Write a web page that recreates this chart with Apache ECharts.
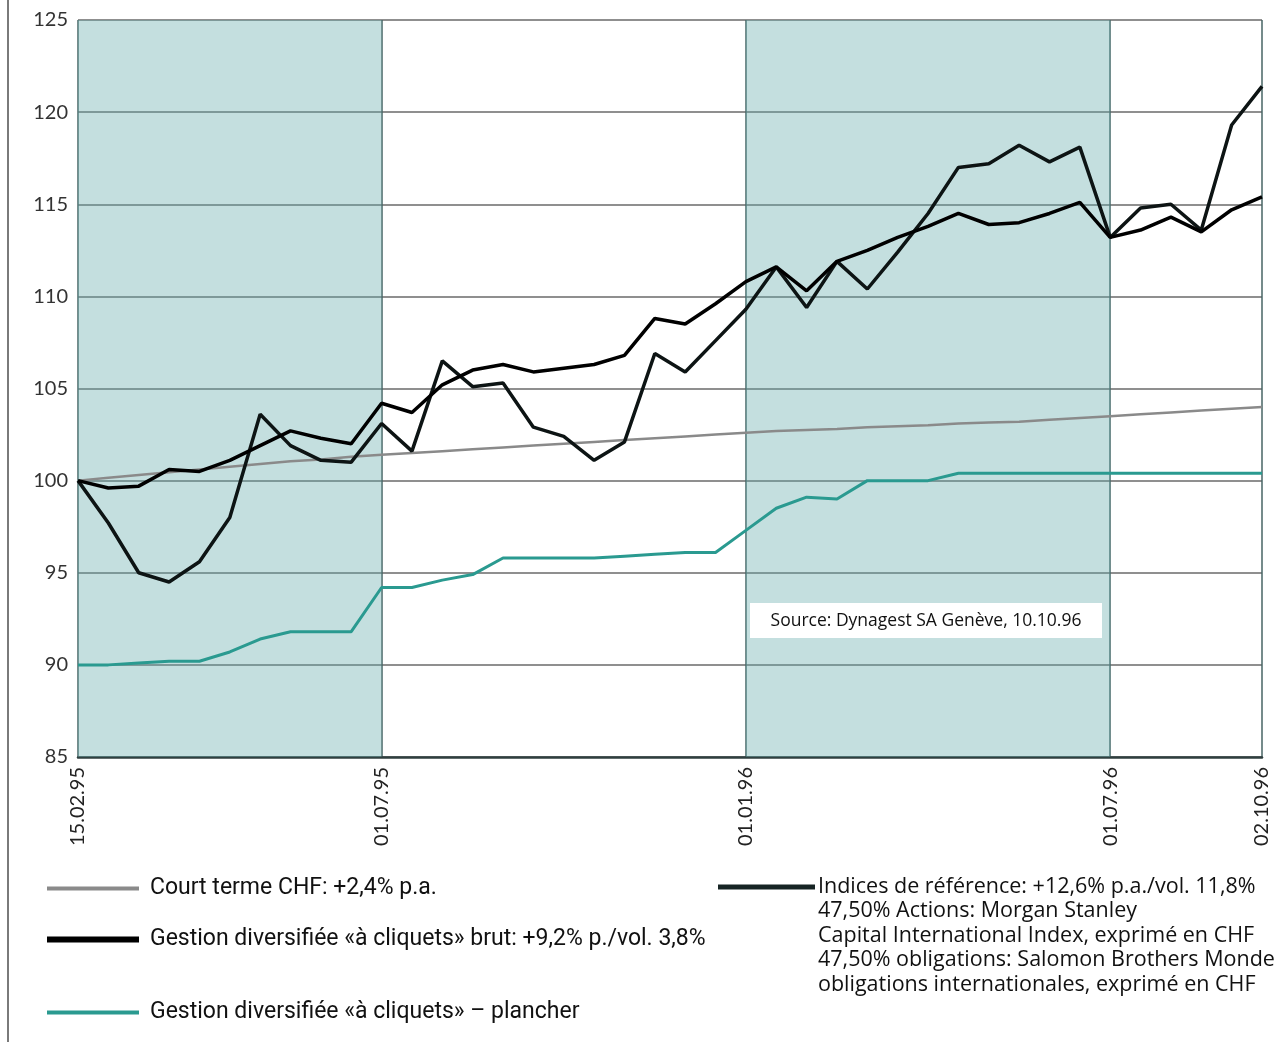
<!DOCTYPE html>
<html>
<head>
<meta charset="utf-8">
<script src="https://cdn.jsdelivr.net/npm/echarts@6/dist/echarts.min.js"></script>
<style>
  html, body { margin: 0; padding: 0; background: #fff; }
  #chart { width: 1276px; height: 1042px; }
</style>
</head>
<body>
<div id="chart"></div>
<script>
// Semi-monthly observations, 15.02.95 to 02.10.96 (40 points)
const tickIndex  = [0, 10, 22, 34, 39];
const tickLabels = ['15.02.95', '01.07.95', '01.01.96', '01.07.96', '02.10.96'];

const courtTerme = [100.0, 100.15, 100.3, 100.45, 100.6, 100.75, 100.9, 101.05, 101.15, 101.3,
                    101.4, 101.5, 101.6, 101.7, 101.8, 101.9, 102.0, 102.1, 102.2, 102.3,
                    102.4, 102.5, 102.6, 102.7, 102.75, 102.8, 102.9, 102.95, 103.0, 103.1,
                    103.15, 103.2, 103.3, 103.4, 103.5, 103.6, 103.7, 103.8, 103.9, 104.0];

const gestionBrut = [100.0, 99.6, 99.7, 100.6, 100.5, 101.1, 101.9, 102.7, 102.3, 102.0,
                     104.2, 103.7, 105.2, 106.0, 106.3, 105.9, 106.1, 106.3, 106.8, 108.8,
                     108.5, 109.6, 110.8, 111.6, 110.3, 111.9, 112.5, 113.2, 113.8, 114.5,
                     113.9, 114.0, 114.5, 115.1, 113.2, 113.6, 114.3, 113.5, 114.7, 115.4];

const plancher = [90.0, 90.0, 90.1, 90.2, 90.2, 90.7, 91.4, 91.8, 91.8, 91.8,
                  94.2, 94.2, 94.6, 94.9, 95.8, 95.8, 95.8, 95.8, 95.9, 96.0,
                  96.1, 96.1, 97.3, 98.5, 99.1, 99.0, 100.0, 100.0, 100.0, 100.4,
                  100.4, 100.4, 100.4, 100.4, 100.4, 100.4, 100.4, 100.4, 100.4, 100.4];

const indices = [100.0, 97.7, 95.0, 94.5, 95.6, 98.0, 103.6, 101.9, 101.1, 101.0,
                 103.1, 101.6, 106.5, 105.1, 105.3, 102.9, 102.4, 101.1, 102.1, 106.9,
                 105.9, 107.6, 109.3, 111.6, 109.4, 111.9, 110.4, 112.4, 114.5, 117.0,
                 117.2, 118.2, 117.3, 118.1, 113.2, 114.8, 115.0, 113.6, 119.3, 121.4];

// shaded half-year periods (start index, end index)
const shadedPeriods = [[0, 10], [22, 34]];

const names = {
  court: 'Court terme CHF: +2,4% p.a.',
  brut: 'Gestion diversifiée «à cliquets» brut: +9,2% p./vol. 3,8%',
  plancher: 'Gestion diversifiée «à cliquets» – plancher',
  indices: 'Indices de référence: +12,6% p.a./vol. 11,8%'
};
const indicesNote = [
  '47,50% Actions: Morgan Stanley',
  'Capital International Index, exprimé en CHF',
  '47,50% obligations: Salomon Brothers Monde',
  'obligations internationales, exprimé en CHF'
];
const sourceText = 'Source: Dynagest SA Genève, 10.10.96';

const categories = courtTerme.map((_, i) => String(i));
const FONT = 'Lato, "Open Sans", sans-serif';
const WIDE = '"Open Sans", Lato, sans-serif';
const NARROW = 'Roboto, "Liberation Sans", sans-serif';

const chart = echarts.init(document.getElementById('chart'), null, { renderer: 'canvas' });

const legendBase = {
  orient: 'horizontal',
  icon: 'rect',
  itemWidth: 92,
  padding: 0,
  selectedMode: false,
  textStyle: { fontFamily: NARROW, fontSize: 23, color: '#111', padding: [0, 0, 0, 6] }
};

chart.setOption({
  animation: false,
  backgroundColor: '#ffffff',
  grid: { left: 78, right: 14, top: 20, bottom: 285, containLabel: false },
  legend: [
    Object.assign({}, legendBase, { data: [names.court], left: 47, top: 877, itemHeight: 4 }),
    Object.assign({}, legendBase, { data: [names.brut], left: 47, top: 928, itemHeight: 6 }),
    Object.assign({}, legendBase, { data: [names.plancher], left: 47, top: 1001, itemHeight: 4 }),
    Object.assign({}, legendBase, {
      data: [names.indices], left: 718, top: 876, itemWidth: 97, itemHeight: 5,
      textStyle: { fontFamily: WIDE, fontSize: 21.5, color: '#111', padding: [0, 0, 0, -2] }
    })
  ],
  xAxis: {
    type: 'category',
    data: categories,
    boundaryGap: false,
    axisLine: { show: true, lineStyle: { color: '#2f3f3f', width: 2.5 } },
    axisTick: { show: false },
    axisLabel: {
      interval: 0,
      rotate: 90,
      margin: 10,
      fontFamily: FONT,
      fontSize: 20,
      color: '#222',
      formatter: (v, i) => {
        const k = tickIndex.indexOf(i);
        return k >= 0 ? tickLabels[k] : '';
      }
    },
    splitLine: {
      show: true,
      interval: (i) => tickIndex.indexOf(i) >= 0,
      lineStyle: { color: '#476464', width: 1.5 }
    }
  },
  yAxis: {
    type: 'value',
    min: 85,
    max: 125,
    interval: 5,
    axisLine: { show: false },
    axisTick: { show: false },
    axisLabel: { fontFamily: FONT, fontSize: 20, color: '#333', margin: 10 },
    splitLine: { show: true, lineStyle: { color: '#6a6a6a', width: 1.5 } }
  },
  series: [
    {
      name: names.plancher,
      type: 'line',
      data: plancher,
      symbol: 'none',
      color: '#2a9a90',
      lineStyle: { color: '#2a9a90', width: 3 },
      z: 3
    },
    {
      name: names.court,
      type: 'line',
      data: courtTerme,
      symbol: 'none',
      color: '#8a8a8a',
      lineStyle: { color: '#8a8a8a', width: 2.5 },
      z: 3,
      markArea: {
        silent: true,
        itemStyle: { color: 'rgba(100,170,172,0.38)' },
        data: shadedPeriods.map(([a, b]) => [{ xAxis: String(a) }, { xAxis: String(b) }])
      }
    },
    {
      name: names.indices,
      type: 'line',
      data: indices,
      symbol: 'none',
      color: '#162424',
      lineStyle: { color: '#0d1414', width: 3.5 },
      z: 4
    },
    {
      name: names.brut,
      type: 'line',
      data: gestionBrut,
      symbol: 'none',
      color: '#000000',
      lineStyle: { color: '#000000', width: 3.5 },
      z: 5
    }
  ],
  graphic: [
    // page frame on the left
    {
      type: 'line',
      shape: { x1: 8, y1: 0, x2: 8, y2: 1042 },
      style: { stroke: '#7a7a7a', lineWidth: 2 },
      silent: true,
      z: 100
    },
    {
      type: 'text',
      left: 818,
      top: 899,
      silent: true,
      z: 100,
      style: {
        text: indicesNote.join('\n'),
        fontFamily: WIDE,
        fontSize: 21.5,
        lineHeight: 24.4,
        fill: '#111'
      }
    },
    {
      type: 'group',
      left: 750,
      top: 603,
      silent: true,
      z: 100,
      children: [
        { type: 'rect', z: 100, shape: { x: 0, y: 0, width: 352, height: 35 }, style: { fill: '#ffffff' } },
        {
          type: 'text',
          z: 101,
          x: 176, y: 18,
          style: {
            text: sourceText,
            fontFamily: WIDE,
            fontSize: 17.5,
            fill: '#111',
            align: 'center',
            verticalAlign: 'middle'
          }
        }
      ]
    }
  ]
});
</script>
</body>
</html>
